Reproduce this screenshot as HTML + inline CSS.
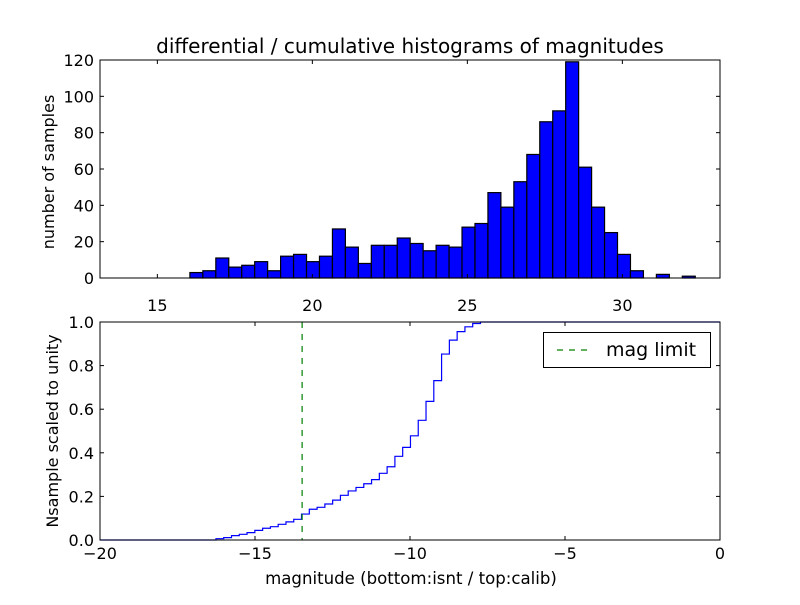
<!DOCTYPE html>
<html><head><meta charset="utf-8"><style>
body{margin:0;background:#fff;width:800px;height:600px;overflow:hidden}
svg text{font-family:"DejaVu Sans","Liberation Sans",sans-serif;fill:#000}
</style></head><body>
<svg id="fig" width="800" height="600" viewBox="0 0 800 600" xmlns="http://www.w3.org/2000/svg">
<rect width="800" height="600" fill="#fff"/>
<g id="topAx"></g>
<g id="botAx"></g>
<text x="410" y="53" font-size="20" text-anchor="middle">differential / cumulative histograms of magnitudes</text>
<text x="411" y="584" font-size="16.6" text-anchor="middle">magnitude (bottom:isnt / top:calib)</text>
<text transform="translate(54,172) rotate(-90)" font-size="16" text-anchor="middle">number of samples</text>
<text transform="translate(58,431) rotate(-90)" font-size="16" text-anchor="middle">Nsample scaled to unity</text>
</svg>
<script>
const histCounts=[3,4,11,6,7,9,4,12,13,9,12,27,17,8,18,18,22,19,15,18,17,28,30,47,39,53,68,86,92,119,61,39,25,13,4,0,2,0,1];
const histStart=16.05, histWidth=0.418;
const topXTicks=[15,20,25,30];
const topYTicks=[0,20,40,60,80,100,120];
const cdfValues=[0.006,0.011,0.020,0.026,0.034,0.044,0.054,0.061,0.072,0.083,0.095,0.119,0.141,0.150,0.165,0.183,0.205,0.225,0.241,0.258,0.277,0.306,0.336,0.384,0.425,0.478,0.549,0.636,0.731,0.853,0.917,0.956,0.978,0.993,1.0];
const cdfStart=-16.26, cdfWidth=0.251;
const magLimit=-13.48;
const botXTicks=[-20,-15,-10,-5,0];
const botYTicks=[0.0,0.2,0.4,0.6,0.8,1.0];
const NS='http://www.w3.org/2000/svg';
function mk(p,t,a){const e=document.createElementNS(NS,t);for(const k in a)e.setAttribute(k,a[k]);p.appendChild(e);return e;}
const AL=100,AR=720;
const tx=v=>AL+(v-13.15)*31, ty=v=>278-v*(218/120);
const topG=document.getElementById('topAx');
histCounts.forEach((c,i)=>{
 const x0=tx(histStart+i*histWidth), x1=tx(histStart+(i+1)*histWidth);
 if(c<=0)return;
 const r=mk(topG,'rect',{x:x0,y:ty(c),width:x1-x0,height:278-ty(c),fill:'#0000ff',stroke:'#000','stroke-width':1.2});
 
 
});
mk(topG,'rect',{x:AL,y:60,width:AR-AL,height:218,fill:'none',stroke:'#000','stroke-width':1});
topXTicks.forEach(v=>{const x=tx(v);
 mk(topG,'line',{x1:x,x2:x,y1:278,y2:274,stroke:'#000'});mk(topG,'line',{x1:x,x2:x,y1:60,y2:64,stroke:'#000'});
 const t=mk(topG,'text',{x:x,y:311,'font-size':16,'text-anchor':'middle'});t.textContent=v;
 
 });
topYTicks.forEach(v=>{const y=ty(v);
 mk(topG,'line',{x1:AL,x2:AL+4,y1:y,y2:y,stroke:'#000'});mk(topG,'line',{x1:AR,x2:AR-4,y1:y,y2:y,stroke:'#000'});
 const t=mk(topG,'text',{x:AL-6,y:y+6,'font-size':16,'text-anchor':'end'});t.textContent=v;
 
 });
const bx=v=>AL+(v+20)*31, by=v=>540-v*218;
const botG=document.getElementById('botAx');
let d=`M${AL},${by(0)} L${bx(cdfStart)},${by(0)}`;
cdfValues.forEach((v,i)=>{const x0=bx(cdfStart+i*cdfWidth),x1=bx(cdfStart+(i+1)*cdfWidth);d+=` L${x0},${by(v)} L${x1},${by(v)}`;});
d+=` L${AR},${by(cdfValues[cdfValues.length-1])}`;
const p=mk(botG,'path',{d:d,fill:'none',stroke:'#0000ff','stroke-width':1.2});


const ml=mk(botG,'line',{x1:bx(magLimit),x2:bx(magLimit),y1:322,y2:540,stroke:'#008000','stroke-width':1.2,'stroke-dasharray':'6,6'});


mk(botG,'rect',{x:AL,y:322,width:AR-AL,height:218,fill:'none',stroke:'#000','stroke-width':1});
botXTicks.forEach(v=>{const x=bx(v);
 mk(botG,'line',{x1:x,x2:x,y1:540,y2:536,stroke:'#000'});mk(botG,'line',{x1:x,x2:x,y1:322,y2:326,stroke:'#000'});
 const t=mk(botG,'text',{x:x,y:559,'font-size':16,'text-anchor':'middle'});t.textContent=v<0?'\u2212'+(-v):v;
 
 });
botYTicks.forEach(v=>{const y=by(v);
 mk(botG,'line',{x1:AL,x2:AL+4,y1:y,y2:y,stroke:'#000'});mk(botG,'line',{x1:AR,x2:AR-4,y1:y,y2:y,stroke:'#000'});
 const t=mk(botG,'text',{x:AL-6,y:y+6,'font-size':16,'text-anchor':'end'});t.textContent=v.toFixed(1);
 
 });
const lg=mk(botG,'g',{});


mk(lg,'rect',{x:543.5,y:332.5,width:167,height:35,fill:'#fff',stroke:'#000'});
mk(lg,'line',{x1:557,x2:593,y1:350,y2:350,stroke:'#008000','stroke-width':1.2,'stroke-dasharray':'6,6'});
const lt=mk(lg,'text',{x:606,y:356,'font-size':19});lt.textContent='mag limit';


</script>
</body></html>
